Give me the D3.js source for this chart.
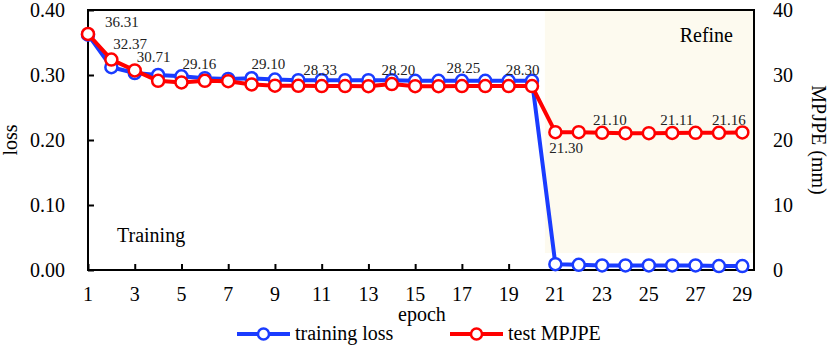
<!DOCTYPE html>
<meta charset="utf-8">
<script src="https://d3js.org/d3.v7.min.js"></script>
<style>
  body { margin: 0; background: #fff; }
  text { font-family: "Liberation Serif", "Times New Roman", serif; fill: #000; }
</style>
<div id="chart"></div>
<script>
// epochs 1..29
var epochs = d3.range(1, 30);
// training loss (left axis)
var trainLoss = [0.362, 0.312, 0.303, 0.300, 0.298, 0.295, 0.294, 0.295, 0.293, 0.292,
                 0.292, 0.292, 0.292, 0.292, 0.291, 0.291, 0.291, 0.291, 0.291, 0.291,
                 0.009, 0.008, 0.007, 0.007, 0.007, 0.007, 0.007, 0.006, 0.006];
// test MPJPE (right axis, mm)
var testMpjpe = [36.31, 32.37, 30.71, 29.10, 28.85, 29.10, 29.05, 28.55, 28.35, 28.33,
                 28.30, 28.30, 28.28, 28.60, 28.28, 28.28, 28.30, 28.30, 28.30, 28.30,
                 21.20, 21.20, 21.10, 21.05, 21.05, 21.08, 21.11, 21.10, 21.16];
// data labels on the MPJPE line
var labelEpochs = [1, 2, 3, 5, 8, 10, 13, 16, 19, 21, 23, 26, 28];
var labelValues = [36.31, 32.37, 30.71, 29.16, 29.10, 28.33, 28.20, 28.25, 28.30, 21.30, 21.10, 21.11, 21.16];
var leftTicks = [0, 0.1, 0.2, 0.3, 0.4];
var rightTicks = [0, 10, 20, 30, 40];
var xTicks = d3.range(1, 30, 2);

var W = 830, H = 347;
var margin = {top: 10, left: 88, right: 76, bottom: 77};
var x0 = margin.left, x1 = W - margin.right, y0 = H - margin.bottom, y1 = margin.top;

var svg = d3.select("#chart").append("svg")
  .attr("width", W).attr("height", H);

var x = d3.scaleLinear().domain([1, 29.5]).range([x0, x1]);
var yL = d3.scaleLinear().domain([0, 0.4]).range([y0, y1]);
var yR = d3.scaleLinear().domain([0, 40]).range([y0, y1]);

// refine region shading
svg.append("rect")
  .attr("x", x(20.55)).attr("y", y1)
  .attr("width", x1 - x(20.55)).attr("height", y0 - 17 - y1)
  .attr("fill", "#fdfaef");

// frame
svg.append("rect")
  .attr("x", x0).attr("y", y1).attr("width", x1 - x0).attr("height", y0 - y1)
  .attr("fill", "none").attr("stroke", "#000").attr("stroke-width", 2);

// left axis
var gl = svg.append("g").attr("transform", "translate(" + x0 + ",0)")
  .call(d3.axisRight(yL).tickValues(leftTicks).tickSize(6).tickFormat(""));
gl.select(".domain").remove();
gl.selectAll("line").attr("stroke-width", 2);
svg.selectAll(".lt").data(leftTicks).enter().append("text")
  .attr("x", 65).attr("y", d => yL(d)).attr("dy", "0.33em")
  .attr("text-anchor", "end").style("font-size", "20px")
  .text(d => d3.format(".2f")(d));

// right axis labels
svg.selectAll(".rt").data(rightTicks).enter().append("text")
  .attr("x", 773).attr("y", d => yR(d)).attr("dy", "0.33em")
  .attr("text-anchor", "start").style("font-size", "20px")
  .text(d => d);

// bottom axis
var gb = svg.append("g").attr("transform", "translate(0," + y0 + ")")
  .call(d3.axisTop(x).tickValues(xTicks).tickSize(6).tickFormat(""));
gb.select(".domain").remove();
gb.selectAll("line").attr("stroke-width", 2);
svg.selectAll(".xt").data(xTicks).enter().append("text")
  .attr("x", d => x(d)).attr("y", y0 + 31)
  .attr("text-anchor", "middle").style("font-size", "20px")
  .text(d => d);

// axis titles
svg.append("text").attr("x", 422).attr("y", 321).attr("text-anchor", "middle")
  .style("font-size", "20px").text("epoch");
svg.append("text").attr("transform", "translate(17,140) rotate(-90)")
  .attr("text-anchor", "middle").style("font-size", "20px").text("loss");
svg.append("text").attr("transform", "translate(812,140) rotate(90)")
  .attr("text-anchor", "middle").style("font-size", "20px").text("MPJPE (mm)");

// phase names
svg.append("text").attr("x", 117).attr("y", 242).style("font-size", "20px").text("Training");
svg.append("text").attr("x", 733).attr("y", 42).attr("text-anchor", "end")
  .style("font-size", "20px").text("Refine");

var blue = "#1a3cff", red = "#ff0000";

function series(vals, yScale, color) {
  var pts = epochs.map((e, i) => [x(e), yScale(vals[i])]);
  svg.append("path").datum(pts)
    .attr("d", d3.line())
    .attr("fill", "none").attr("stroke", color).attr("stroke-width", 4)
    .attr("stroke-linejoin", "round");
  svg.append("g").selectAll("circle").data(pts).enter().append("circle")
    .attr("cx", d => d[0]).attr("cy", d => d[1]).attr("r", 6)
    .attr("fill", "#fff").attr("stroke", color).attr("stroke-width", 2.5);
}
series(trainLoss, yL, blue);
series(testMpjpe, yR, red);

// data labels (offsets from the labelled point)
var labelDx = [17, 2, 2, 1, 0, 5, 13, 8, -3, -6, -9, -12, -7];
var labelDy = [-7, -11, -8, -13, -15, -11, -11, -13, -11, 21, -8, -8, -8];
svg.selectAll(".dl").data(labelEpochs).enter().append("text")
  .attr("x", (d, i) => x(d) + labelDx[i])
  .attr("y", (d, i) => yR(testMpjpe[d - 1]) + labelDy[i])
  .style("font-size", "15px").style("fill", "#222")
  .text((d, i) => labelValues[i].toFixed(2));

// legend
var legend = [{name: "training loss", color: blue, x: 237}, {name: "test MPJPE", color: red, x: 450}];
var lg = svg.selectAll(".lg").data(legend).enter().append("g");
lg.append("line").attr("x1", d => d.x).attr("x2", d => d.x + 53)
  .attr("y1", 334).attr("y2", 334).attr("stroke", d => d.color).attr("stroke-width", 4);
lg.append("circle").attr("cx", d => d.x + 26.5).attr("cy", 334).attr("r", 5.5)
  .attr("fill", "#fff").attr("stroke", d => d.color).attr("stroke-width", 2.5);
lg.append("text").attr("x", d => d.x + 58).attr("y", 340)
  .style("font-size", "20px").text(d => d.name);
</script>
